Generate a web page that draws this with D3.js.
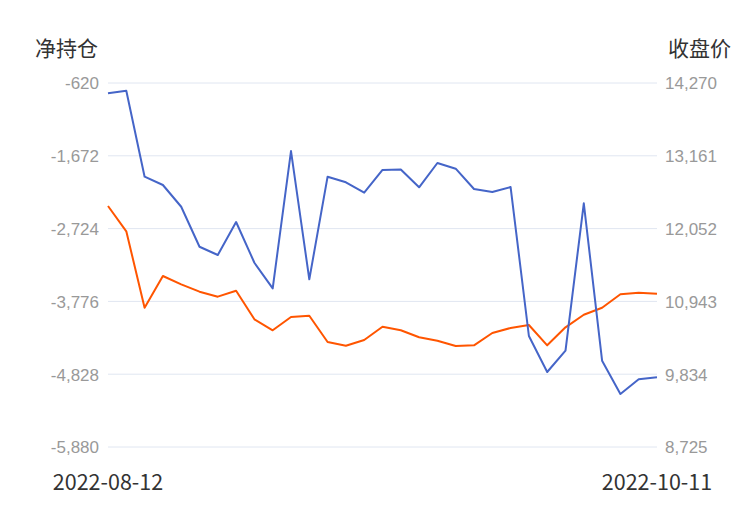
<!DOCTYPE html>
<html><head><meta charset="utf-8">
<script src="https://cdn.jsdelivr.net/npm/d3@7/dist/d3.min.js"></script>
<style>body{margin:0;background:#fff;} svg{display:block;font-family:"Noto Sans CJK SC","Noto Sans",sans-serif;}</style>
</head><body><svg id="c" width="750" height="510"></svg>
<script>
const dates = ["2022-08-12","2022-08-15","2022-08-16","2022-08-17","2022-08-18","2022-08-19","2022-08-22","2022-08-23","2022-08-24","2022-08-25","2022-08-26","2022-08-29","2022-08-30","2022-08-31","2022-09-01","2022-09-02","2022-09-05","2022-09-06","2022-09-07","2022-09-08","2022-09-09","2022-09-13","2022-09-14","2022-09-15","2022-09-16","2022-09-19","2022-09-20","2022-09-21","2022-09-22","2022-10-10","2022-10-11"];
const netPosition = [-769,-731,-1974,-2094,-2408,-2986,-3106,-2629,-3217,-3587,-1603,-3457,-1974,-2055,-2205,-1877,-1870,-2127,-1776,-1858,-2152,-2195,-2123,-4276,-4796,-4488,-2358,-4633,-5114,-4902,-4873];
const closePrice = [12396,12011,10847,11330,11203,11091,11015,11106,10670,10503,10705,10725,10324,10268,10355,10557,10503,10396,10344,10263,10274,10461,10538,10583,10274,10548,10740,10847,11051,11075,11060];
const leftTicks = [-620,-1672,-2724,-3776,-4828,-5880];
const rightTicks = [14270,13161,12052,10943,9834,8725];

const svg = d3.select("#c");
const x0 = 108, x1 = 657, yTop = 83, yBot = 447;
const x = d3.scalePoint().domain(dates).range([x0, x1]);
const yL = d3.scaleLinear().domain([-5880,-620]).range([yBot, yTop]);
const yR = d3.scaleLinear().domain([8725,14270]).range([yBot, yTop]);
const fmt = d => d3.format(",")(d).replace("\u2212", "-");

svg.append("g").selectAll("line").data(leftTicks).join("line")
  .attr("x1", x0).attr("x2", x1).attr("y1", d=>yL(d)).attr("y2", d=>yL(d))
  .attr("stroke", "#e0e6f1").attr("stroke-width", 1);

const gl = svg.append("g").attr("transform", `translate(${x0},0)`)
  .call(d3.axisLeft(yL).tickValues(leftTicks).tickFormat(fmt).tickSize(0).tickPadding(9));
gl.select(".domain").remove();
gl.selectAll("text").attr("fill","#999").style("font-size","17px").attr("dy","0.35em");

const gr = svg.append("g").attr("transform", `translate(${x1},0)`)
  .call(d3.axisRight(yR).tickValues(rightTicks).tickFormat(fmt).tickSize(0).tickPadding(8));
gr.select(".domain").remove();
gr.selectAll("text").attr("fill","#999").style("font-size","17px").attr("dy","0.35em");

const xl = [dates[0], dates[dates.length-1]];
svg.append("g").selectAll("text").data(xl).join("text")
  .attr("x", d=>x(d)).attr("y", 490).attr("text-anchor","middle")
  .attr("fill","#333").style("font-size","21.5px").text(d=>d);

svg.append("text").attr("x", 35).attr("y", 56).attr("fill","#333").style("font-size","21px").text("净持仓");
svg.append("text").attr("x", 731).attr("y", 56).attr("text-anchor","end").attr("fill","#333").style("font-size","21px").text("收盘价");

const lineL = d3.line().x((d,i)=>x(dates[i])).y(d=>yL(d));
const lineR = d3.line().x((d,i)=>x(dates[i])).y(d=>yR(d));
svg.append("path").attr("d", lineR(closePrice)).attr("fill","none").attr("stroke","#ff5500").attr("stroke-width",2).attr("stroke-linejoin","round");
svg.append("path").attr("d", lineL(netPosition)).attr("fill","none").attr("stroke","#4565c8").attr("stroke-width",2).attr("stroke-linejoin","round");
</script></body></html>
